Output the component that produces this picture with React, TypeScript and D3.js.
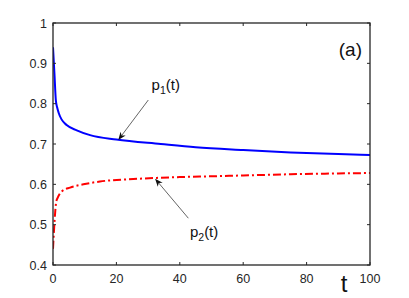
import React from "react";
import * as d3 from "d3";

const t1 = [0, 0.45, 0.9, 1.3, 1.8, 2.7, 4.3, 7.5, 11.7, 20, 34, 45, 60, 75, 90, 100];
const p1 = [0.94, 0.875, 0.808, 0.791, 0.777, 0.761, 0.747, 0.734, 0.722, 0.711, 0.7, 0.692, 0.685, 0.679, 0.675, 0.673];
const t2 = [0, 0.5, 1, 1.5, 2.7, 5.4, 9.6, 14.8, 25.3, 32.7, 40, 50, 60, 75, 90, 100];
const p2 = [0.44, 0.51, 0.556, 0.567, 0.582, 0.592, 0.6, 0.607, 0.613, 0.616, 0.618, 0.62, 0.622, 0.625, 0.627, 0.628];
const xTicks = [0, 20, 40, 60, 80, 100];
const yTicks = [0.4, 0.5, 0.6, 0.7, 0.8, 0.9, 1];

const W = 409, H = 298;
const L = 53, R = 370, T = 23, B = 265;
const AX = "#262626";
const FONT = "'Liberation Sans', Arial, Helvetica, sans-serif";

function Arrow({ x1, y1, x2, y2 }: { x1: number; y1: number; x2: number; y2: number }) {
  const ang = Math.atan2(y2 - y1, x2 - x1);
  const len = 8, wid = 3.2;
  const bx = x2 - len * Math.cos(ang), by = y2 - len * Math.sin(ang);
  const nx = -Math.sin(ang), ny = Math.cos(ang);
  const ix = x2 - len * 0.7 * Math.cos(ang), iy = y2 - len * 0.7 * Math.sin(ang);
  const head = `M${x2},${y2} L${bx + nx * wid},${by + ny * wid} L${ix},${iy} L${bx - nx * wid},${by - ny * wid} Z`;
  return (
    <g>
      <line x1={x1} y1={y1} x2={ix} y2={iy} stroke="#222" strokeWidth={0.7} />
      <path d={head} fill="#111" />
    </g>
  );
}

export default function App() {
  const x = d3.scaleLinear().domain([0, 100]).range([L, R]);
  const y = d3.scaleLinear().domain([0.4, 1]).range([B, T]);
  const line = d3.line<[number, number]>().x((d) => x(d[0])).y((d) => y(d[1])).curve(d3.curveMonotoneX);
  const d1 = line(t1.map((t, i) => [t, p1[i]]))!;
  const d2 = line(t2.map((t, i) => [t, p2[i]]))!;
  const tk = 3;
  return (
    <svg width={W} height={H} style={{ position: "absolute", left: 0, top: 0, display: "block", background: "#fff" }} fontFamily={FONT}>
      <defs>
        <clipPath id="plot"><rect x={L} y={T} width={R - L} height={B - T} /></clipPath>
      </defs>
      <g clipPath="url(#plot)">
        <path d={d1} fill="none" stroke="#0000ff" strokeWidth={2} />
        <path d={d2} fill="none" stroke="#ff0000" strokeWidth={2} strokeDasharray="8,3,2,3" />
      </g>
      {xTicks.map((v) => (
        <g key={"x" + v}>
          <line x1={x(v)} x2={x(v)} y1={B} y2={B - tk} stroke={AX} strokeWidth={1} />
          <line x1={x(v)} x2={x(v)} y1={T} y2={T + tk} stroke={AX} strokeWidth={1} />
          <text x={x(v)} y={283} textAnchor="middle" fontSize={12.5} fill={AX}>{v}</text>
        </g>
      ))}
      {yTicks.map((v) => (
        <g key={"y" + v}>
          <line x1={L} x2={L + tk} y1={y(v)} y2={y(v)} stroke={AX} strokeWidth={1} />
          <line x1={R} x2={R - tk} y1={y(v)} y2={y(v)} stroke={AX} strokeWidth={1} />
          <text x={47} y={y(v) + 4.5} textAnchor="end" fontSize={12.5} fill={AX}>{String(v)}</text>
        </g>
      ))}
      <rect x={L} y={T} width={R - L} height={B - T} fill="none" stroke={AX} strokeWidth={1.3} />
      <Arrow x1={x(30.06)} y1={y(0.809)} x2={x(20.6)} y2={y(0.71)} />
      <Arrow x1={x(42.7)} y1={y(0.516)} x2={x(32.2)} y2={y(0.614)} />
      <text x={x(31.1)} y={y(0.834)} fontSize={15} fill="#111">
        p<tspan fontSize={10.5} dy={4}>1</tspan><tspan dy={-4}>(t)</tspan>
      </text>
      <text x={x(43.2)} y={y(0.469)} fontSize={15} fill="#111">
        p<tspan fontSize={10.5} dy={4}>2</tspan><tspan dy={-4}>(t)</tspan>
      </text>
      <text x={362} y={56} textAnchor="end" fontSize={19} fill="#111">(a)</text>
      <text x={344} y={292} textAnchor="middle" fontSize={24} fill="#111">t</text>
    </svg>
  );
}
